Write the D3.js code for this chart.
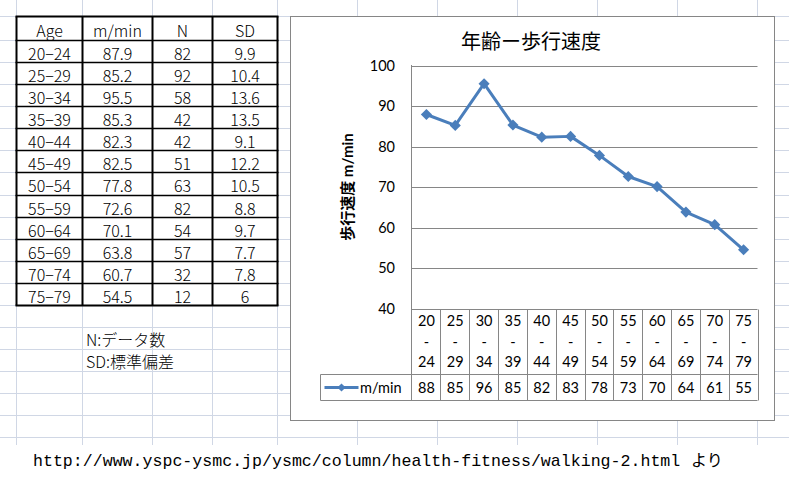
<!DOCTYPE html>
<html><head><meta charset="utf-8">
<script src="https://cdn.jsdelivr.net/npm/d3@7"></script>
<style>body{margin:0;background:#fff;} svg{display:block;}</style>
</head><body><svg id="c" width="789" height="486"></svg>
<script>
const ages = ["20-24","25-29","30-34","35-39","40-44","45-49","50-54","55-59","60-64","65-69","70-74","75-79"];
const speeds = [87.9,85.2,95.5,85.3,82.3,82.5,77.8,72.6,70.1,63.8,60.7,54.5];
const counts = [82,92,58,42,42,51,63,82,54,57,32,12];
const sds = [9.9,10.4,13.6,13.5,9.1,12.2,10.5,8.8,9.7,7.7,7.8,6];
const yTicks = [40,50,60,70,80,90,100];
const tableHeaders = ["Age","m/min","N","SD"];
const chartTitle = "年齢ー歩行速度";
const yTitle = "歩行速度 m/min";
const seriesName = "m/min";
const notes = ["N:データ数","SD:標準偏差"];
const source = "http://www.yspc-ysmc.jp/ysmc/column/health-fitness/walking-2.html";
const sourceSuffix = "より";

const svg = d3.select("#c");
const W = 789, H = 486;
const gridColor = "#d0d7e5", axisGray = "#868686", blue = "#4a7ebb";
const jp = "'Noto Sans CJK JP', sans-serif";
const cal = "Lato, 'Noto Sans CJK JP', sans-serif";

// ---- spreadsheet gridlines ----
const colX = [16.5, 82.5, 152.5, 212.5, 277.5, 357.5, 437.5, 517.5, 597.5, 677.5, 757.5];
const rowH = 22.08;
const rowY = [16.5].concat(d3.range(19).map(k => Math.round(40 + k*rowH) + 0.5));
const grid = svg.append("g");
grid.selectAll("line.v").data(colX).join("line")
  .attr("x1", d => d).attr("x2", d => d).attr("y1", 0).attr("y2", 445)
  .attr("stroke", gridColor);
grid.selectAll("line.h").data(rowY).join("line")
  .attr("x1", 0).attr("x2", W).attr("y1", d => d).attr("y2", d => d)
  .attr("stroke", gridColor);

// ---- left data table ----
const tCols = colX.slice(0, 5);
const tRows = rowY.slice(0, 14);
const tbl = svg.append("g");
const tableRows = [tableHeaders].concat(ages.map((a, i) => [a.replace("-", "−"), String(speeds[i]), String(counts[i]), String(sds[i])]));
tableRows.forEach((r, ri) => {
  r.forEach((t, ci) => {
    tbl.append("text")
      .attr("x", (tCols[ci] + tCols[ci+1]) / 2)
      .attr("y", (tRows[ri] + tRows[ri+1]) / 2 + 1)
      .attr("text-anchor", "middle").attr("dominant-baseline", "central")
      .attr("font-family", jp).attr("font-weight", 300).attr("font-size", 16).attr("fill", "#000")
      .text(t);
  });
});
tbl.selectAll("line.tv").data(tCols).join("line")
  .attr("x1", d => d).attr("x2", d => d).attr("y1", tRows[0]).attr("y2", tRows[13])
  .attr("stroke", "#000").attr("stroke-width", 2);
tbl.selectAll("line.th").data(tRows).join("line")
  .attr("x1", tCols[0]-1).attr("x2", tCols[4]+1).attr("y1", d => d).attr("y2", d => d)
  .attr("stroke", "#000").attr("stroke-width", (d, i) => (i === 0 || i === 13) ? 2 : 1.6);

// notes
notes.forEach((n, i) => {
  svg.append("text").attr("x", 86).attr("y", 346 + i*22)
    .attr("font-family", jp).attr("font-weight", 300).attr("font-size", 16).attr("fill", "#000").text(n);
});

// source (one text element, two spans)
const src = svg.append("text").attr("y", 466).attr("fill", "#000");
src.append("tspan").attr("x", 33)
  .attr("font-family", "'Liberation Mono', monospace").attr("font-size", 16.6)
  .text(source);
src.append("tspan").attr("x", 691)
  .attr("font-family", jp).attr("font-size", 16).text(sourceSuffix);

// ---- chart ----
svg.append("rect").attr("x", 290.5).attr("y", 16.5).attr("width", 484).attr("height", 404)
  .attr("fill", "#fff").attr("stroke", axisGray).attr("stroke-width", 1);

svg.append("text").attr("x", 531).attr("y", 49)
  .attr("text-anchor", "middle").attr("font-family", jp).attr("font-size", 20)
  .attr("fill", "#000").text(chartTitle);

const x = d3.scaleBand().domain(ages).range([411.5, 757.5]);
const y = d3.scaleLinear().domain([40, 100]).range([308.5, 65.5]);
const bw = x.bandwidth();

// gridlines + tick labels via axis
const yAxis = d3.axisLeft(y).tickValues(yTicks).tickSize(-(757.5 - 411.5)).tickPadding(16);
const ga = svg.append("g").attr("transform", "translate(411.5,0)").call(yAxis);
ga.select(".domain").remove();
ga.selectAll(".tick line").attr("stroke", axisGray).attr("stroke-width", 1)
  .attr("transform", "translate(0,0.5)").filter(d => d === 40).remove();
ga.selectAll(".tick text").attr("font-family", cal).attr("font-size", 14.5)
  .attr("fill", "#000").attr("x", -16.5).attr("dy", "0.35em");
ga.selectAll(".tick").each(function(d){ d3.select(this).attr("transform", `translate(0,${Math.round(y(d))})`); });

// y title
svg.append("text")
  .attr("transform", "translate(347,187) rotate(-90)")
  .attr("text-anchor", "middle").attr("dominant-baseline", "central")
  .attr("font-family", cal).attr("font-weight", "bold").attr("font-size", 15)
  .attr("fill", "#000").text(yTitle);

// data table in chart
const dt = svg.append("g").attr("stroke", axisGray).attr("stroke-width", 1);
const yTop = Math.round(y(40)) + 0.5, yMid = 374.5, yBot = 400.5;
dt.append("line").attr("x1", 411.5).attr("x2", 411.5).attr("y1", 65).attr("y2", yBot);
dt.append("line").attr("x1", 411.5).attr("x2", 757.5).attr("y1", yTop).attr("y2", yTop);
dt.append("line").attr("x1", 320.5).attr("x2", 757.5).attr("y1", yMid).attr("y2", yMid);
dt.append("line").attr("x1", 320.5).attr("x2", 757.5).attr("y1", yBot).attr("y2", yBot);
dt.append("line").attr("x1", 320.5).attr("x2", 320.5).attr("y1", yMid).attr("y2", yBot);
dt.selectAll("line.b").data(ages).join("line")
  .attr("x1", d => Math.round(x(d) + bw) + 0.5).attr("x2", d => Math.round(x(d) + bw) + 0.5)
  .attr("y1", yTop).attr("y2", yBot);

const cat = svg.append("g").attr("font-family", cal).attr("font-size", 14.5).attr("fill", "#000")
  .attr("text-anchor", "middle");
ages.forEach((a, i) => {
  const parts = a.split("-");
  const cx = x(a) + bw / 2 + 0.5;
  [parts[0], "-", parts[1]].forEach((t, j) => {
    cat.append("text").attr("x", cx).attr("y", [321, 342, 362][j]).attr("dy", "0.35em").text(t);
  });
  cat.append("text").attr("x", cx).attr("y", 387.5).attr("dy", "0.35em").text(Math.round(speeds[i]));
});

// legend
svg.append("line").attr("x1", 324.5).attr("x2", 358.5).attr("y1", 387.5).attr("y2", 387.5)
  .attr("stroke", blue).attr("stroke-width", 3);
svg.append("path").attr("d", d3.symbol(d3.symbolSquare, 34)())
  .attr("transform", "translate(341.5,387.5) rotate(45)").attr("fill", blue);
svg.append("text").attr("x", 360).attr("y", 387.5).attr("dy", "0.35em")
  .attr("font-family", cal).attr("font-size", 14.5).attr("fill", "#000").text(seriesName);

// series
const line = d3.line().x((d, i) => x(ages[i]) + bw / 2 + 0.5).y(d => y(d));
svg.append("path").datum(speeds).attr("d", line)
  .attr("fill", "none").attr("stroke", blue).attr("stroke-width", 3).attr("stroke-linejoin", "round");
svg.selectAll("path.m").data(speeds).join("path")
  .attr("d", d3.symbol(d3.symbolSquare, 62)())
  .attr("transform", (d, i) => `translate(${x(ages[i]) + bw / 2 + 0.5},${y(d)}) rotate(45)`)
  .attr("fill", blue);
</script></body></html>
